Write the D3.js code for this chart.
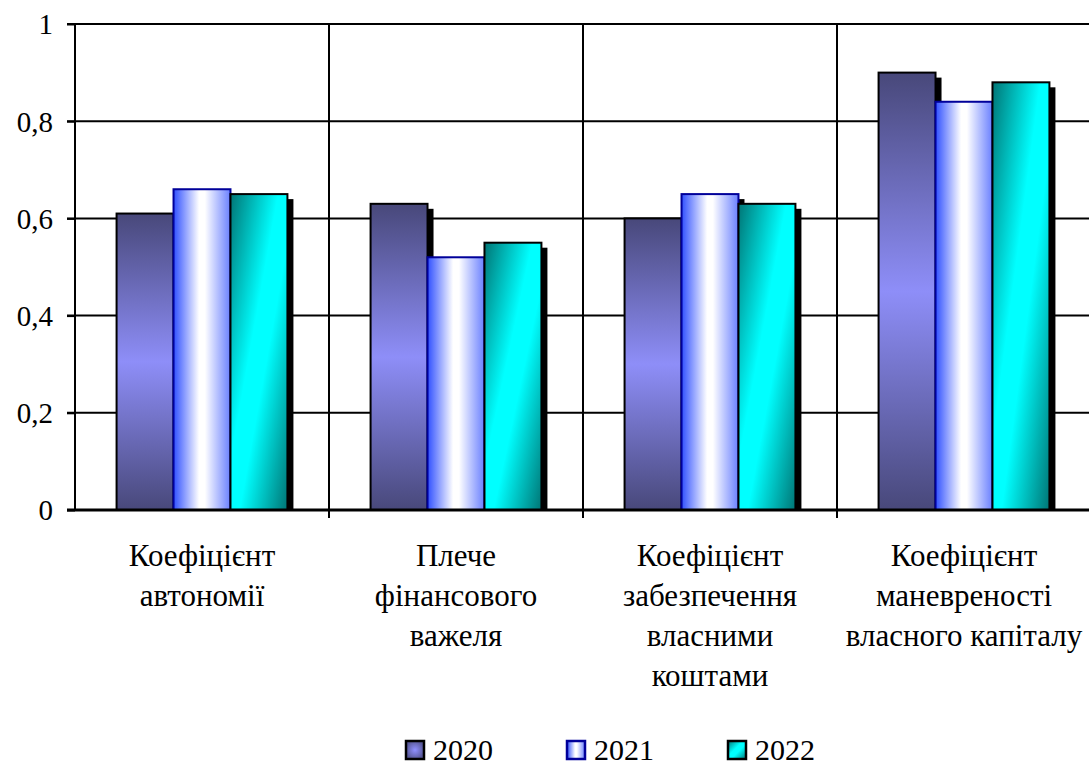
<!DOCTYPE html>
<html>
<head>
<meta charset="utf-8">
<script src="https://cdn.jsdelivr.net/npm/d3@7"></script>
<style>
  body { margin: 0; background: #fff; font-family: Times New Roman, serif; }
</style>
</head>
<body>
<script>
// chart data
var categories = [
  ["Коефіцієнт", "автономії"],
  ["Плече", "фінансового", "важеля"],
  ["Коефіцієнт", "забезпечення", "власними", "коштами"],
  ["Коефіцієнт", "маневреності", "власного капіталу"]
];
var years = ["2020", "2021", "2022"];
var values2020 = [0.61, 0.63, 0.60, 0.90];
var values2021 = [0.66, 0.52, 0.65, 0.84];
var values2022 = [0.65, 0.55, 0.63, 0.88];
var yTicks = [0, 0.2, 0.4, 0.6, 0.8, 1];

var series = [values2020, values2021, values2022];

var W = 1089, H = 765;
var plotLeft = 75, plotTop = 24, plotRight = 1091, plotBottom = 510;

var svg = d3.select("body").append("svg")
    .attr("width", W)
    .attr("height", H)
    .style("font-family", "Times New Roman, serif");

var defs = svg.append("defs");

// gradients like the old Excel fills
var g0 = defs.append("linearGradient").attr("id", "fill0")
    .attr("x1", 0).attr("y1", 0).attr("x2", 0).attr("y2", 1);
g0.append("stop").attr("offset", "0%").attr("stop-color", "#48487a");
g0.append("stop").attr("offset", "50%").attr("stop-color", "#8e8ef8");
g0.append("stop").attr("offset", "100%").attr("stop-color", "#48487a");

var g1 = defs.append("linearGradient").attr("id", "fill1")
    .attr("x1", 0).attr("y1", 0).attr("x2", 1).attr("y2", 0);
g1.append("stop").attr("offset", "0%").attr("stop-color", "#3050ff");
g1.append("stop").attr("offset", "45%").attr("stop-color", "#ffffff");
g1.append("stop").attr("offset", "55%").attr("stop-color", "#ffffff");
g1.append("stop").attr("offset", "100%").attr("stop-color", "#6a80ff");

var g2 = defs.append("linearGradient").attr("id", "fill2")
    .attr("x1", 0).attr("y1", 0).attr("x2", 1).attr("y2", 1);
g2.append("stop").attr("offset", "0%").attr("stop-color", "#007575");
g2.append("stop").attr("offset", "42%").attr("stop-color", "#00ffff");
g2.append("stop").attr("offset", "58%").attr("stop-color", "#00ffff");
g2.append("stop").attr("offset", "100%").attr("stop-color", "#007575");

var g0leg = defs.append("radialGradient").attr("id", "leg0");
g0leg.append("stop").attr("offset", "0%").attr("stop-color", "#9090ff");
g0leg.append("stop").attr("offset", "100%").attr("stop-color", "#5a5a9a");

var strokes = ["#000", "#00009a", "#000"];

// scales
var x0 = d3.scaleBand()
    .domain(d3.range(categories.length))
    .range([plotLeft, plotRight])
    .paddingInner(0)
    .paddingOuter(0);

var x1 = d3.scaleBand()
    .domain(d3.range(years.length))
    .range([0, x0.bandwidth()])
    .paddingOuter(0.73)
    .paddingInner(0);

var y = d3.scaleLinear()
    .domain([0, 1])
    .range([plotBottom, plotTop]);

// horizontal gridlines
svg.append("g")
  .selectAll("line")
  .data(yTicks)
  .enter().append("line")
    .attr("x1", plotLeft - 8)
    .attr("x2", plotRight)
    .attr("y1", function(d) { return y(d); })
    .attr("y2", function(d) { return y(d); })
    .attr("stroke", "#000")
    .attr("stroke-width", 2);

// vertical gridlines at category boundaries
svg.append("g")
  .selectAll("line")
  .data(d3.range(1, categories.length))
  .enter().append("line")
    .attr("x1", function(d) { return x0(d); })
    .attr("x2", function(d) { return x0(d); })
    .attr("y1", plotTop)
    .attr("y2", plotBottom + 8)
    .attr("stroke", "#000")
    .attr("stroke-width", 2);

// left axis
var yAxis = d3.axisLeft(y)
    .tickValues(yTicks)
    .tickSize(8)
    .tickFormat(function(d) { return String(d).replace(".", ","); });

var ya = svg.append("g")
    .attr("transform", "translate(" + plotLeft + ",0)")
    .call(yAxis);
ya.attr("font-family", null).attr("font-size", null);
ya.select(".domain").attr("stroke-width", 2).attr("d", "M0," + plotTop + "V" + plotBottom);
ya.selectAll(".tick line").attr("stroke-width", 2);
ya.selectAll(".tick text")
    .attr("x", -22)
    .attr("dy", "0.34em")
    .style("font-size", "29px");

// bars
var groups = svg.append("g")
  .selectAll("g")
  .data(categories)
  .enter().append("g")
    .attr("transform", function(d, i) { return "translate(" + x0(i) + ",0)"; });

var bw = x1.bandwidth();

// shadows first
groups.each(function(c, ci) {
  var g = d3.select(this);
  series.forEach(function(s, si) {
    g.append("rect")
      .attr("x", x1(si) + 6)
      .attr("y", y(s[ci]) + 5)
      .attr("width", bw)
      .attr("height", plotBottom - y(s[ci]) - 5)
      .attr("fill", "#000");
  });
});

groups.each(function(c, ci) {
  var g = d3.select(this);
  series.forEach(function(s, si) {
    g.append("rect")
      .attr("x", x1(si))
      .attr("y", y(s[ci]))
      .attr("width", bw)
      .attr("height", plotBottom - y(s[ci]))
      .attr("fill", "url(#fill" + si + ")")
      .attr("stroke", strokes[si])
      .attr("stroke-width", 2);
  });
});

// baseline on top
svg.append("line")
    .attr("x1", plotLeft - 8).attr("x2", plotRight)
    .attr("y1", plotBottom).attr("y2", plotBottom)
    .attr("stroke", "#000").attr("stroke-width", 3);

// category labels, one text per line
groups.each(function(lines) {
  var g = d3.select(this);
  lines.forEach(function(line, i) {
    g.append("text")
      .attr("x", x0.bandwidth() / 2)
      .attr("y", 566 + i * 40)
      .attr("text-anchor", "middle")
      .style("font-size", "31px")
      .text(line);
  });
});

// legend
var legX = [405, 566, 727];
var legFills = ["url(#leg0)", "url(#fill1)", "url(#fill2)"];
var leg = svg.append("g")
  .selectAll("g")
  .data(years)
  .enter().append("g")
    .attr("transform", function(d, i) { return "translate(" + legX[i] + ",740)"; });

leg.append("rect")
    .attr("x", 1).attr("y", 1)
    .attr("width", 18).attr("height", 18)
    .attr("fill", function(d, i) { return legFills[i]; })
    .attr("stroke", function(d, i) { return strokes[i]; })
    .attr("stroke-width", 2.5);

leg.append("text")
    .attr("x", 28)
    .attr("y", 20)
    .style("font-size", "30px")
    .text(function(d) { return d; });
</script>
</body>
</html>
